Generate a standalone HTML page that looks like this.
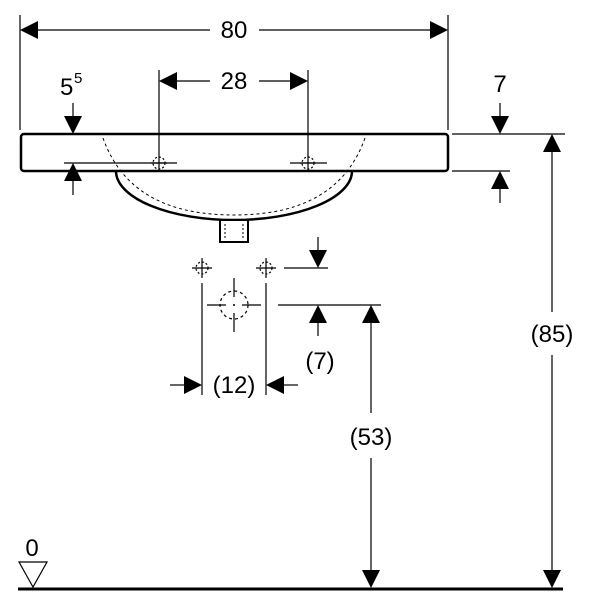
<!DOCTYPE html>
<html><head><meta charset="utf-8"><style>
html,body{margin:0;padding:0;background:#fff}
svg{display:block}
text{font-family:"Liberation Sans",sans-serif;font-size:24px;fill:#000}
</style></head><body>
<svg width="600" height="600" viewBox="0 0 600 600" xmlns="http://www.w3.org/2000/svg">
<g stroke="#000" stroke-width="1.2" fill="none">
<line x1="20" y1="15" x2="20" y2="130"/><line x1="448" y1="15" x2="448" y2="130"/>
<line x1="38" y1="30" x2="210" y2="30"/><line x1="259" y1="30" x2="430" y2="30"/>
<line x1="159" y1="70" x2="159" y2="172"/><line x1="308" y1="70" x2="308" y2="172"/>
<line x1="177" y1="81" x2="210" y2="81"/><line x1="259" y1="81" x2="290" y2="81"/>
<line x1="73" y1="103" x2="73" y2="118"/><line x1="73" y1="180" x2="73" y2="195"/>
<line x1="64" y1="163" x2="177" y2="163"/>
<line x1="290" y1="163" x2="327" y2="163"/>
<line x1="452" y1="134" x2="565" y2="134"/><line x1="452" y1="171" x2="510" y2="171"/>
<line x1="500" y1="103" x2="500" y2="116"/><line x1="500" y1="189" x2="500" y2="203"/>
<line x1="552" y1="150" x2="552" y2="312"/><line x1="552" y1="355" x2="552" y2="572"/>
<line x1="371" y1="322" x2="371" y2="413"/><line x1="371" y1="458" x2="371" y2="572"/>
<line x1="284" y1="268" x2="328" y2="268"/><line x1="278" y1="305" x2="381" y2="305"/>
<line x1="318" y1="237" x2="318" y2="252"/><line x1="318" y1="321" x2="318" y2="336"/>
<line x1="202" y1="283" x2="202" y2="395"/><line x1="266" y1="283" x2="266" y2="395"/>
<line x1="170" y1="385" x2="186" y2="385"/><line x1="282" y1="385" x2="298" y2="385"/>
<line x1="192" y1="268" x2="212" y2="268"/><line x1="202" y1="258" x2="202" y2="278"/>
<line x1="256" y1="268" x2="276" y2="268"/><line x1="266" y1="258" x2="266" y2="278"/>
<circle cx="202" cy="268" r="6" stroke-dasharray="2 2"/><circle cx="266" cy="268" r="6" stroke-dasharray="2 2"/>
<circle cx="159" cy="163" r="6" stroke-dasharray="2 2"/><circle cx="308" cy="163" r="6" stroke-dasharray="2 2"/>
<line x1="300" y1="163" x2="316" y2="163"/><line x1="151" y1="163" x2="167" y2="163"/>
<circle cx="234" cy="305" r="14" stroke-dasharray="3 3"/>
<line x1="207" y1="305" x2="226" y2="305"/><line x1="242" y1="305" x2="261" y2="305"/>
<line x1="234" y1="278" x2="234" y2="297"/><line x1="234" y1="313" x2="234" y2="332"/>
</g>
<circle cx="234" cy="305" r="1" fill="#000"/>
<rect x="21" y="134" width="427" height="37" rx="3" fill="none" stroke="#000" stroke-width="2.5"/>
<path d="M116 171 A118 49 0 0 0 352 171" fill="none" stroke="#000" stroke-width="2.5"/>
<path d="M103 138 C125 200 180 215 234 215 C288 215 343 200 365 138" fill="none" stroke="#000" stroke-width="1" stroke-dasharray="3 3"/>
<rect x="220" y="220" width="28" height="22" fill="#fff" stroke="#000" stroke-width="2"/>
<line x1="225" y1="224" x2="225" y2="240" stroke="#000" stroke-width="1" stroke-dasharray="2 2"/>
<line x1="243" y1="224" x2="243" y2="240" stroke="#000" stroke-width="1" stroke-dasharray="2 2"/>
<line x1="18" y1="589" x2="563" y2="589" stroke="#000" stroke-width="3"/>
<polygon points="19,562 47,562 33,587" fill="#fff" stroke="#000" stroke-width="1.2"/>
<g fill="#000">
<polygon points="20,30 38,21 38,39"/><polygon points="448,30 430,21 430,39"/>
<polygon points="159,81 177,72 177,90"/><polygon points="308,81 290,72 290,90"/>
<polygon points="73,134 64,116 82,116"/><polygon points="73,163 64,181 82,181"/>
<polygon points="500,134 491,116 509,116"/><polygon points="500,171 491,189 509,189"/>
<polygon points="552,134 543,152 561,152"/><polygon points="552,588 543,570 561,570"/>
<polygon points="371,305 362,323 380,323"/><polygon points="371,588 362,570 380,570"/>
<polygon points="318,268 309,250 327,250"/><polygon points="318,305 309,323 327,323"/>
<polygon points="202,385 184,376 184,394"/><polygon points="266,385 284,376 284,394"/>
</g>
<text x="234" y="38" text-anchor="middle">80</text>
<text x="234" y="89" text-anchor="middle">28</text>
<text x="60" y="95">5</text><text x="74" y="83" style="font-size:15px">5</text>
<text x="500" y="92" text-anchor="middle">7</text>
<text x="552" y="342" text-anchor="middle">(85)</text>
<text x="371" y="445" text-anchor="middle">(53)</text>
<text x="320" y="369" text-anchor="middle">(7)</text>
<text x="234" y="393" text-anchor="middle">(12)</text>
<text x="32" y="556" text-anchor="middle">0</text>
</svg>
</body></html>
